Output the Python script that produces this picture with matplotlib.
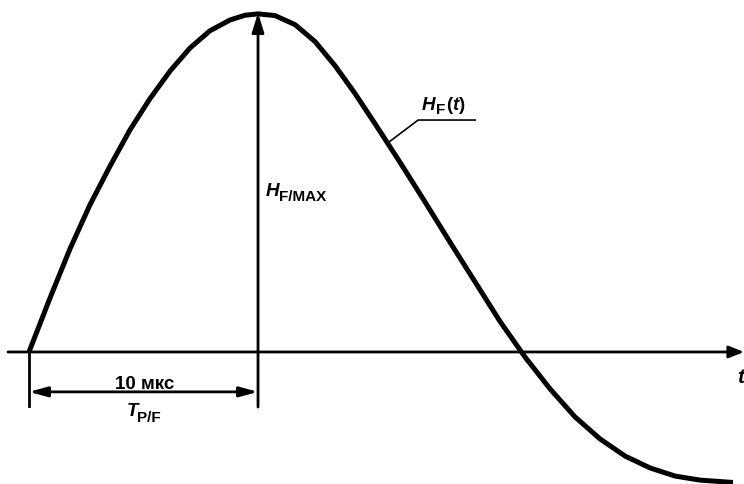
import matplotlib
matplotlib.use('Agg')
import matplotlib.pyplot as plt

plt.rcParams['font.family'] = ['Liberation Sans', 'DejaVu Sans']
plt.rcParams['mathtext.fontset'] = 'custom'
plt.rcParams['mathtext.rm'] = 'Liberation Sans:bold'
plt.rcParams['mathtext.it'] = 'Liberation Sans:italic:bold'

# pulse shape H_F(t), t in мкс, H normalised to H_F/MAX = 1
t_us = [0, 0.92, 1.79, 2.66, 3.54, 4.41, 5.28, 6.16, 7.03, 7.90, 8.78, 9.43, 10.0,
        10.74, 11.62, 12.49, 13.36, 14.24, 15.11, 16.20, 17.29, 18.38, 19.48,
        20.57, 21.66, 22.75, 23.84, 24.93, 26.03, 27.12, 28.21, 29.30, 30.74]
h_rel = [0, 0.160, 0.305, 0.435, 0.550, 0.657, 0.749, 0.831, 0.899, 0.950, 0.982, 0.996, 1.0,
         0.995, 0.968, 0.918, 0.847, 0.764, 0.675, 0.561, 0.444, 0.325, 0.207,
         0.090, -0.015, -0.109, -0.192, -0.257, -0.308, -0.343, -0.367, -0.379, -0.386]

t_rise = 10.0   # T_P/F = 10 мкс
h_max = 1.0

fig = plt.figure(figsize=(7.44, 4.85), dpi=100)
ax = fig.add_axes([0, 0, 1, 1])
ax.set_xlim(-1.266, 31.22)
ax.set_ylim(-0.3905, 1.044)
ax.axis('off')

# time axis
ax.annotate('', xy=(31.22, 0), xytext=(-0.917, 0),
            arrowprops=dict(arrowstyle='-|>,head_length=0.45,head_width=0.18',
                            mutation_scale=20, lw=2, color='k', shrinkA=0, shrinkB=0))

# the curve
ax.plot(t_us, h_rel, color='k', lw=3.6, solid_joinstyle='round', solid_capstyle='butt', zorder=3)

# H_F/MAX arrow
ax.annotate('', xy=(t_rise, h_max + 0.003), xytext=(t_rise, -0.163),
            arrowprops=dict(arrowstyle='-|>,head_length=0.58,head_width=0.18',
                            mutation_scale=20, lw=2, color='k', shrinkA=0, shrinkB=0))

# left extension line
ax.plot([0, 0], [0, -0.16], color='k', lw=2)

# dimension arrow T_P/F
ax.annotate('', xy=(t_rise, -0.118), xytext=(0, -0.118),
            arrowprops=dict(arrowstyle='<|-|>,head_length=0.55,head_width=0.15',
                            mutation_scale=20, lw=2, color='k', shrinkA=0, shrinkB=0))

fs = 13.5
fs_sub = 11
ax.text(5.07, -0.1065, '10 мкс', ha='center', va='baseline', fontsize=fs, weight='bold')
ax.text(4.25, -0.186, 'T', style='italic', ha='left', va='baseline', fontsize=fs, weight='bold')
ax.text(4.72, -0.204, 'P/F', ha='left', va='baseline', fontsize=fs_sub, weight='bold')

ax.text(10.35, 0.4645, 'H', style='italic', ha='left', va='baseline', fontsize=fs, weight='bold')
ax.text(10.92, 0.450, 'F/MAX', ha='left', va='baseline', fontsize=fs_sub, weight='bold')

# leader to the curve + label
ax.plot([15.72, 16.99, 19.48], [0.621, 0.686, 0.686], color='k', lw=1.2)
ax.text(17.16, 0.719, 'H', style='italic', ha='left', va='baseline', fontsize=fs, weight='bold')
ax.text(17.77, 0.707, 'F', ha='left', va='baseline', fontsize=fs_sub, weight='bold')
ax.text(18.2, 0.719, '$(t)$', ha='left', va='baseline', fontsize=fs)

ax.text(30.92, -0.089, 't', style='italic', ha='left', va='baseline', fontsize=15, weight='bold')

plt.savefig('out.png', dpi=100)
